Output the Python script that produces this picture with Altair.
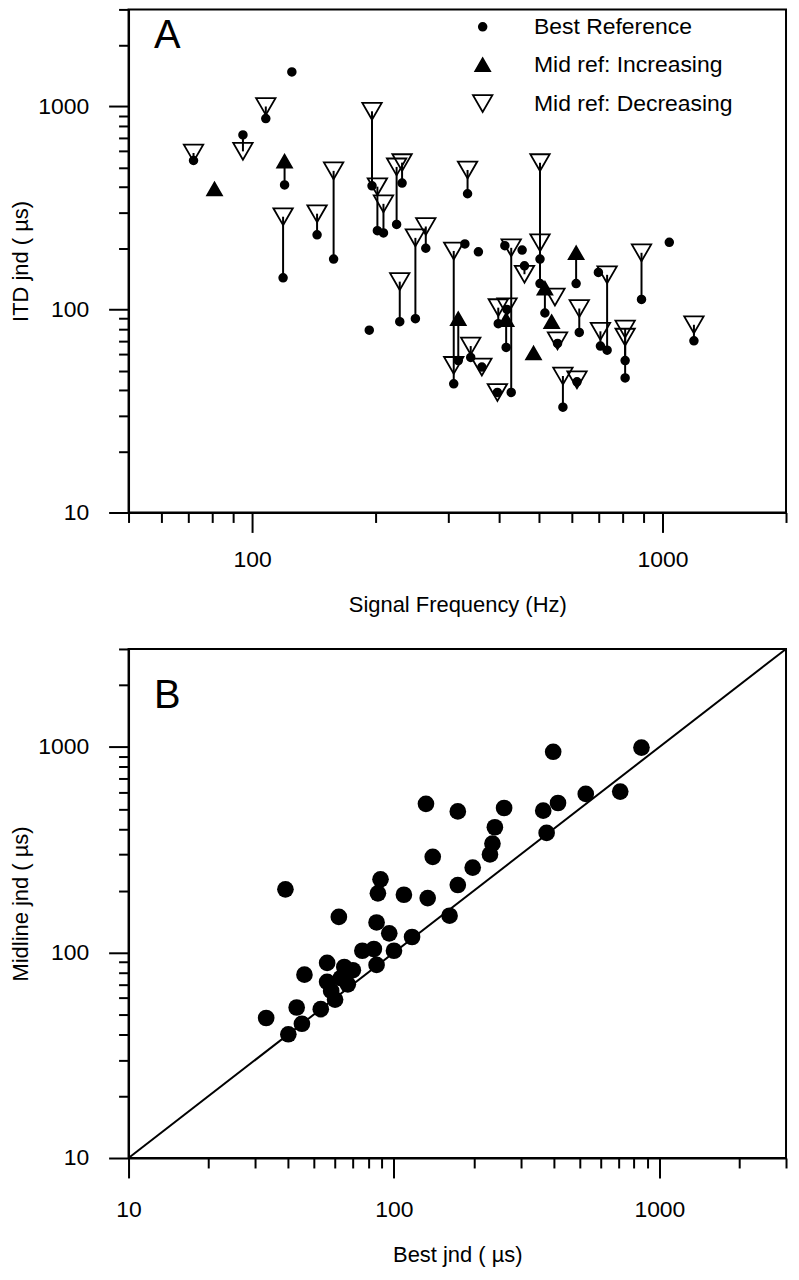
import altair as alt
import pandas as pd

FONT = "Liberation Sans"

# ---------------- Panel A data ----------------
freq_hz = [72, 81, 95, 108, 119, 120, 125, 144, 158, 193, 196, 202, 209, 225, 229, 232,
           250, 265, 310, 310, 318, 330, 335, 341, 356, 363, 396, 398, 413, 416, 418,
           428, 455, 461, 485, 503, 503, 517, 537, 547, 555, 572, 616, 619, 627, 698,
           706, 733, 811, 811, 889, 1039, 1193]
best_ref = [541, None, 723, 870, 143, 410, 1477, 233, 177, 79, 406, 244, 238, 262, 87, 419,
            90, 200, 43, None, 56, 210, 371, 58, 192, 52, 39, 85, 206, 65, 100,
            39, 196, 164, None, 177, 134, 96, None, None, 68, 33, 134, 44, 77, 152,
            66, 63, 56, 46, 112, 214, 70]
mid_ref = [589, 392, 600, 998, 286, 537, None, 296, 481, None, 945, 402, 331, 503, 137, 528,
           225, 256, 194, 53, 90, None, 486, 66, None, 52, 39, 102, None, 89, 103,
           201, None, 149, 61, 528, 213, 127, 87, 115, 70, 47, 190, 45, 101, None,
           78, 148, 80, 73, 190, None, 84]
mid_dir = ["D", "U", "D", "D", "D", "U", None, "D", "D", None, "D", "D", "D", "D", "D", "D",
           "D", "D", "D", "D", "U", None, "D", "D", None, "D", "D", "D", None, "U", "D",
           "D", None, "D", "U", "D", "D", "U", "U", "D", "D", "D", "U", "D", "D", None,
           "D", "D", "D", "D", "D", None, "D"]

# ---------------- Panel B data ----------------
best_jnd = [132, 174, 140, 39, 89, 87, 109, 134, 174, 62, 86, 96, 117, 162, 398, 856,
            712, 528, 415, 365, 376, 260, 240, 235, 230, 198, 76, 84, 100, 86, 56, 46,
            65, 70, 56, 63, 67, 58, 60, 43, 53, 33, 45, 40]
midline_jnd = [529, 486, 292, 203, 227, 194, 191, 184, 213, 149, 140, 124, 119, 151, 948, 994,
               607, 591, 534, 490, 382, 505, 407, 339, 300, 259, 102, 104, 102, 87, 89, 78,
               85, 82, 72, 75, 70, 65, 59, 54, 53, 48, 45, 40]

# tick values
x_major_a = [100, 1000]
x_minor_a = [50, 60, 70, 80, 90, 200, 300, 400, 500, 600, 700, 800, 900, 2000]
log_major = [10, 100, 1000]
log_minor = [20, 30, 40, 50, 60, 70, 80, 90, 200, 300, 400, 500, 600, 700, 800, 900, 2000, 3000]

SERIES = ["Best Reference", "Mid ref: Increasing", "Mid ref: Decreasing"]
DIR_NAME = {"U": SERIES[1], "D": SERIES[2]}

pts_rows, rule_rows = [], []
for f, b, m, d in zip(freq_hz, best_ref, mid_ref, mid_dir):
    if b is not None:
        pts_rows.append({"freq": f, "itd": b, "series": SERIES[0], "order": 0})
    if m is not None:
        pts_rows.append({"freq": f, "itd": m, "series": DIR_NAME[d], "order": 1})
    if b is not None and m is not None and b != m:
        rule_rows.append({"freq": f, "best": b, "mid": m})
pts_df = pd.DataFrame(pts_rows)
rule_df = pd.DataFrame(rule_rows)
b_df = pd.DataFrame({"best": best_jnd, "mid": midline_jnd})
diag_df = pd.DataFrame({"v": [10, 3000]})

W = 660
HA = 505
HB = 511


def major_axis(values, title, orient, label_pad, title_pad):
    return alt.Axis(values=values, format="d", orient=orient, tickSize=20,
                    title=title, labelPadding=label_pad, titlePadding=title_pad,
                    labelOverlap=False, labelFlush=False, grid=False)


def minor_axis(values, orient):
    return alt.Axis(values=values, orient=orient, tickSize=10, labels=False,
                    domain=False, title=None, grid=False)


scA_x = alt.Scale(type="log", domain=[50, 2000])
sc_log = alt.Scale(type="log", domain=[10, 3000])

rules_a = alt.Chart(rule_df).mark_rule(color="black", strokeWidth=2).encode(
    x=alt.X("freq:Q", scale=scA_x, axis=minor_axis(x_minor_a, "bottom")),
    y=alt.Y("best:Q", scale=sc_log, axis=minor_axis(log_minor, "left")),
    y2="mid:Q",
)

legend = alt.Legend(orient="none", legendX=344, legendY=6, title=None,
                    labelFont=FONT, labelFontSize=23, labelColor="black", labelLimit=400,
                    labelOffset=40, rowPadding=14, padding=0,
                    symbolStrokeWidth=1.8, symbolStrokeColor="black")

points_a = alt.Chart(pts_df).mark_point(filled=True, strokeWidth=1.8, opacity=1).encode(
    x=alt.X("freq:Q", scale=scA_x,
            axis=major_axis(x_major_a, "Signal Frequency (Hz)", "bottom", 16, 23)),
    y=alt.Y("itd:Q", scale=sc_log,
            axis=major_axis(log_major, "ITD jnd ( µs)", "left", 20, 5)),
    shape=alt.Shape("series:N", scale=alt.Scale(domain=SERIES, range=["circle", "triangle-up", "triangle-down"]),
                    legend=legend),
    fill=alt.Fill("series:N", scale=alt.Scale(domain=SERIES, range=["black", "black", "transparent"]),
                  legend=legend),
    stroke=alt.Stroke("series:N", scale=alt.Scale(domain=SERIES, range=["black", "black", "black"]),
                      legend=legend),
    size=alt.Size("series:N", scale=alt.Scale(domain=SERIES, range=[60, 380, 300]), legend=legend),
    order=alt.Order("order:Q"),
)

label_a = alt.Chart(pd.DataFrame({"t": ["A"]})).mark_text(
    font=FONT, fontSize=40, color="black", align="center", baseline="middle"
).encode(x=alt.value(39), y=alt.value(27), text="t:N")

panel_a = alt.layer(rules_a, points_a, label_a).resolve_axis(
    x="independent", y="independent").properties(width=W, height=HA)

diag = alt.Chart(diag_df).mark_line(color="black", strokeWidth=2).encode(
    x=alt.X("v:Q", scale=sc_log, axis=minor_axis(log_minor, "bottom")),
    y=alt.Y("v:Q", scale=sc_log, axis=minor_axis(log_minor, "left")),
)
points_b = alt.Chart(b_df).mark_circle(color="black", opacity=1, size=280).encode(
    x=alt.X("best:Q", scale=sc_log, axis=major_axis(log_major, "Best jnd ( µs)", "bottom", 21, 23)),
    y=alt.Y("mid:Q", scale=sc_log, axis=major_axis(log_major, "Midline jnd ( µs)", "left", 20, 5)),
)
label_b = alt.Chart(pd.DataFrame({"t": ["B"]})).mark_text(
    font=FONT, fontSize=40, color="black", align="center", baseline="middle"
).encode(x=alt.value(39), y=alt.value(47), text="t:N")

panel_b = alt.layer(diag, points_b, label_b).resolve_axis(
    x="independent", y="independent").properties(width=W, height=HB)

chart = alt.vconcat(panel_a, panel_b, spacing=28).properties(
    padding={"left": 0, "top": -3, "right": 0, "bottom": 0},
    background="white",
).configure_view(stroke="black", strokeWidth=2).configure_axis(
    domainColor="black", domainWidth=2, tickColor="black", tickWidth=2,
    labelFont=FONT, labelFontSize=23, labelColor="black",
    titleFont=FONT, titleFontSize=22, titleFontWeight="normal", titleColor="black",
)

chart.save("out.html", embed_options={"renderer": "svg", "actions": False})
